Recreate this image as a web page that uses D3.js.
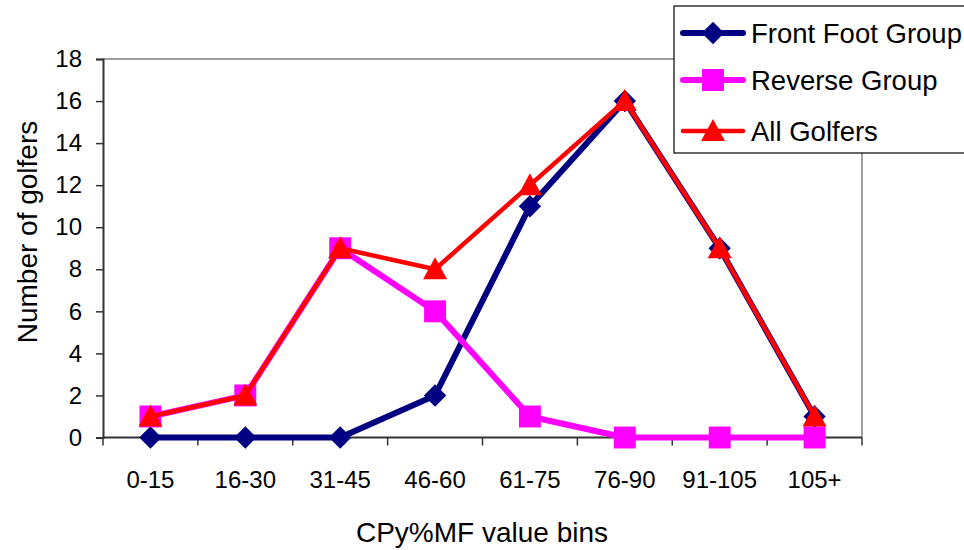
<!DOCTYPE html>
<html>
<head>
<meta charset="utf-8">
<script src="https://cdn.jsdelivr.net/npm/d3@7"></script>
<style>
  html, body { margin: 0; padding: 0; background: #fff; }
  svg { display: block; font-family: "Liberation Sans", Arial, sans-serif; }
</style>
</head>
<body>
<svg id="chart" width="964" height="550"></svg>
<script>
// Bins of CPy%MF values
const categories = ["0-15", "16-30", "31-45", "46-60", "61-75", "76-90", "91-105", "105+"];
// Golfer counts per bin
const frontFootGroup = [0, 0, 0, 2, 11, 16, 9, 1];
const reverseGroup   = [1, 2, 9, 6, 1, 0, 0, 0];
const allGolfers     = [1, 2, 9, 8, 12, 16, 9, 1];
const yTicks = [0, 2, 4, 6, 8, 10, 12, 14, 16, 18];

const series = [
  { name: "Front Foot Group", values: frontFootGroup, color: "#000080", width: 6, symbol: "diamond" },
  { name: "Reverse Group",    values: reverseGroup,   color: "#FF00FF", width: 6, symbol: "square" },
  { name: "All Golfers",      values: allGolfers,     color: "#FF0000", width: 4.5, symbol: "triangle" }
];

const svg = d3.select("#chart");
const plot = { left: 103, right: 862, top: 59, bottom: 437.5 };

const x = d3.scaleBand().domain(categories).range([plot.left, plot.right]);
const y = d3.scaleLinear().domain([0, 18]).range([plot.bottom, plot.top]);

// plot frame (top and right edges in grey)
svg.append("path")
  .attr("d", `M${plot.left},${plot.top}H${plot.right}V${plot.bottom}`)
  .attr("fill", "none").attr("stroke", "#808080").attr("stroke-width", 1.5);

// y axis
const yAxis = svg.append("g")
  .attr("transform", `translate(${plot.left},0)`)
  .call(d3.axisLeft(y).tickValues(yTicks).tickSize(7).tickPadding(14));
yAxis.select(".domain").attr("stroke", "#333").attr("stroke-width", 2);
yAxis.selectAll(".tick line").attr("stroke", "#333").attr("stroke-width", 1.5);
yAxis.selectAll("text").attr("font-size", 24).attr("fill", "#000")
  .attr("font-family", "Liberation Sans, Arial, sans-serif");

// x axis with ticks at bin boundaries
const xAxisG = svg.append("g").attr("transform", `translate(0,${plot.bottom})`);
xAxisG.append("line")
  .attr("x1", plot.left).attr("x2", plot.right)
  .attr("stroke", "#333").attr("stroke-width", 2);
const bounds = categories.map(c => x(c)).concat([x(categories[categories.length - 1]) + x.bandwidth()]);
xAxisG.selectAll(".btick").data(bounds).join("line")
  .attr("x1", d => d).attr("x2", d => d)
  .attr("y1", 0).attr("y2", 8)
  .attr("stroke", "#333").attr("stroke-width", 1.5);
xAxisG.selectAll(".xlabel").data(categories).join("text")
  .attr("x", d => x(d) + x.bandwidth() / 2)
  .attr("y", 50)
  .attr("text-anchor", "middle")
  .attr("font-size", 24)
  .text(d => d);

// axis titles
svg.append("text")
  .attr("x", 482).attr("y", 542)
  .attr("text-anchor", "middle").attr("font-size", 28)
  .text("CPy%MF value bins");
svg.append("text")
  .attr("transform", `translate(37,232) rotate(-90)`)
  .attr("text-anchor", "middle").attr("font-size", 28)
  .text("Number of golfers");

const cx = (d, i) => x(categories[i]) + x.bandwidth() / 2;

function markerPath(symbol) {
  if (symbol === "diamond") return d3.symbol().type(d3.symbolDiamond2).size(320)();
  if (symbol === "square") return d3.symbol().type(d3.symbolSquare).size(480)();
  return "M0,-12L12,10H-12Z";
}

const line = d3.line().x(cx).y(d => y(d));

series.forEach(s => {
  const g = svg.append("g");
  g.append("path")
    .datum(s.values)
    .attr("d", line)
    .attr("fill", "none")
    .attr("stroke", s.color)
    .attr("stroke-width", s.width)
    .attr("stroke-linejoin", "round");
  g.selectAll("path.m").data(s.values).join("path")
    .attr("class", "m")
    .attr("transform", (d, i) => `translate(${cx(d, i)},${y(d)})`)
    .attr("d", markerPath(s.symbol))
    .attr("fill", s.color);
});

// legend
const legend = svg.append("g");
legend.append("rect")
  .attr("x", 674).attr("y", 6).attr("width", 300).attr("height", 147)
  .attr("fill", "#fff").attr("stroke", "#000").attr("stroke-width", 1.2);
series.forEach((s, i) => {
  const ly = [33, 80, 131][i];
  legend.append("line")
    .attr("x1", 683).attr("x2", 743).attr("y1", ly).attr("y2", ly)
    .attr("stroke", s.color).attr("stroke-width", s.width)
    .attr("stroke-linecap", "round");
  legend.append("path")
    .attr("transform", `translate(713,${ly})`)
    .attr("d", markerPath(s.symbol))
    .attr("fill", s.color);
  legend.append("text")
    .attr("x", 751).attr("y", ly + 10)
    .attr("font-size", 27.5)
    .text(s.name);
});
</script>
</body>
</html>
